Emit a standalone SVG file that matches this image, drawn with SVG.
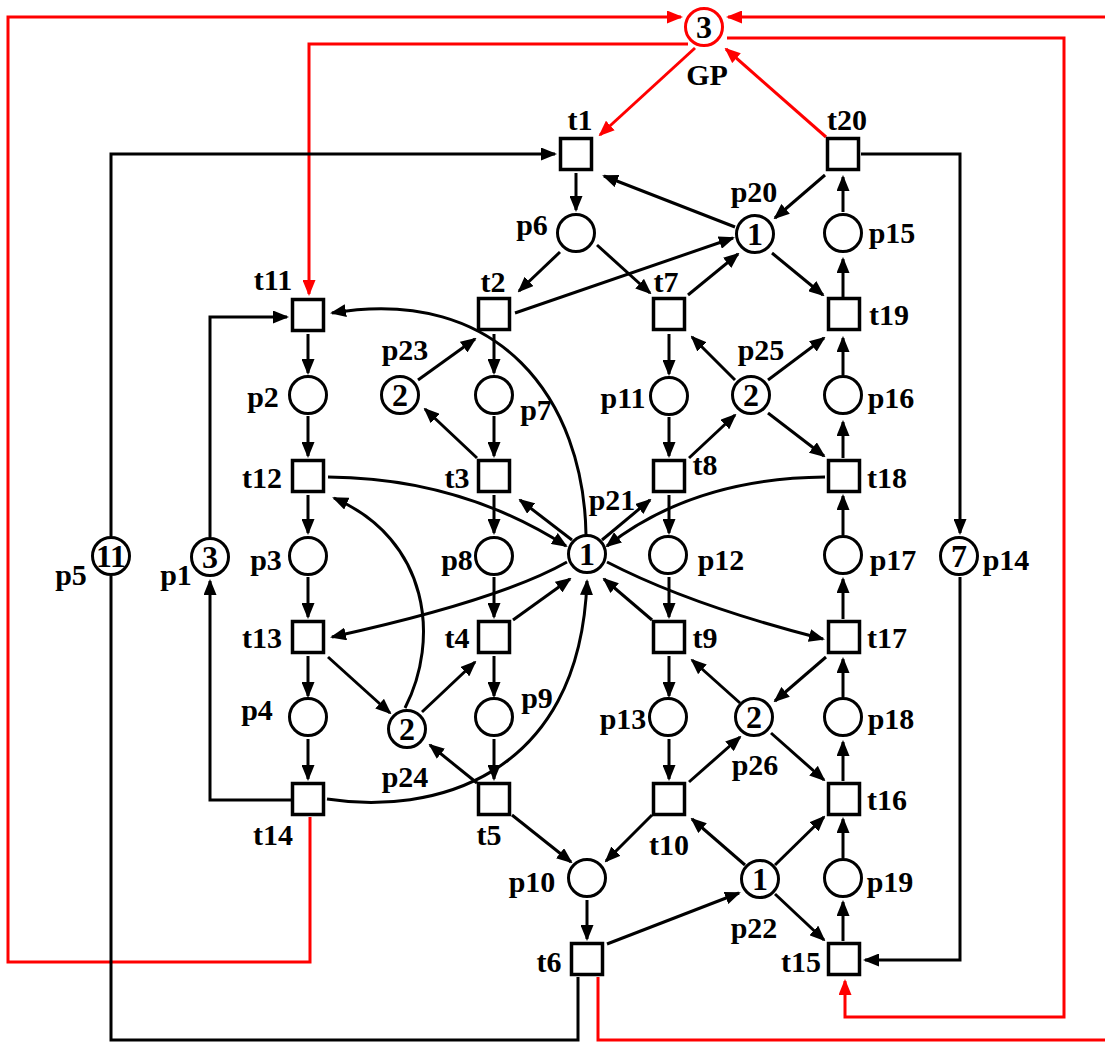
<svg xmlns="http://www.w3.org/2000/svg" width="1105" height="1042" viewBox="0 0 1105 1042">
<style>
.arc{fill:none;stroke:#000;stroke-width:3;marker-end:url(#ah)}
.ln{fill:none;stroke:#000;stroke-width:3}
.red{fill:none;stroke:#f00;stroke-width:3}
.ra{marker-end:url(#rh)}
.t{fill:#fff;stroke:#000;stroke-width:3.5}
.p{fill:#fff;stroke:#000;stroke-width:3}
.gp{fill:#fff;stroke:#f00;stroke-width:3}
text{font-family:"Liberation Serif","Times New Roman",serif;font-weight:bold;font-size:30px;text-anchor:middle;fill:#000}
.tok{font-size:32px}
</style>
<defs>
<marker id="ah" viewBox="0 0 16 13" markerWidth="16" markerHeight="13" refX="14" refY="6.5" orient="auto" markerUnits="userSpaceOnUse"><path d="M0,0 L16,6.5 L0,13 z" fill="#000"/></marker>
<marker id="rh" viewBox="0 0 16 13" markerWidth="16" markerHeight="13" refX="14" refY="6.5" orient="auto" markerUnits="userSpaceOnUse"><path d="M0,0 L16,6.5 L0,13 z" fill="#f00"/></marker>
</defs>
<rect width="1105" height="1042" fill="#fff"/>
<g id="connectors">
<path class="red ra" d="M695,48 L600,135"/>
<path class="red ra" d="M826,137 L726,49"/>
<path class="red ra" d="M310,817 V962 H8 V17 H681"/>
<path class="red ra" d="M688,44 H309 V294"/>
<path class="red ra" d="M727,38 H1064 V1017 H845 V981"/>
<path class="red" d="M598,977 V1040 H1105"/>
<path class="red ra" d="M1105,17 H728"/>
<path class="arc" d="M111,536 V154 H555"/>
<path class="ln" d="M111,576 V1040 H578 V977"/>
<path class="arc" d="M291,800 H210 V581"/>
<path class="arc" d="M210,537 V317 H287"/>
<path class="arc" d="M861,154 H960 V533"/>
<path class="arc" d="M960,577 V960 H865"/>
<path class="arc" d="M576,173 V210"/>
<path class="arc" d="M735,227 L604,176"/>
<path class="arc" d="M825,175 L775,218"/>
<path class="arc" d="M843,212 V177"/>
<path class="arc" d="M560,252 L519,291"/>
<path class="arc" d="M597,245 L650,293"/>
<path class="arc" d="M515,313 L733,238"/>
<path class="arc" d="M688,295 L738,254"/>
<path class="arc" d="M772,253 L823,295"/>
<path class="arc" d="M843,297 V259"/>
<path class="arc" d="M308,334 V373"/>
<path class="arc" d="M418,380 L475,339"/>
<path class="arc" d="M494,334 V373"/>
<path class="arc" d="M669,334 V374"/>
<path class="arc" d="M735,380 L692,337"/>
<path class="arc" d="M768,380 L824,338"/>
<path class="arc" d="M843,375 V338"/>
<path class="arc" d="M308,416 V456"/>
<path class="arc" d="M477,458 L425,409"/>
<path class="arc" d="M494,416 V456"/>
<path class="arc" d="M669,417 V456"/>
<path class="arc" d="M689,458 L735,415"/>
<path class="arc" d="M768,413 L824,456"/>
<path class="arc" d="M843,458 V422"/>
<path class="arc" d="M308,495 V533"/>
<path class="arc" d="M494,495 V533"/>
<path class="arc" d="M669,495 V533"/>
<path class="arc" d="M843,535 V496"/>
<path class="arc" d="M572,540 L520,500"/>
<path class="arc" d="M602,540 L650,500"/>
<path class="arc" d="M513,620 L570,579"/>
<path class="arc" d="M652,620 L604,579"/>
<path class="arc" d="M843,619 V579"/>
<path class="arc" d="M308,577 V617"/>
<path class="arc" d="M494,577 V617"/>
<path class="arc" d="M669,577 V617"/>
<path class="arc" d="M843,697 V659"/>
<path class="arc" d="M308,656 V696"/>
<path class="arc" d="M494,656 V696"/>
<path class="arc" d="M669,656 V696"/>
<path class="arc" d="M328,657 L390,713"/>
<path class="arc" d="M422,712 L475,662"/>
<path class="arc" d="M477,783 L430,745"/>
<path class="arc" d="M740,703 L692,660"/>
<path class="arc" d="M826,657 L775,701"/>
<path class="arc" d="M689,782 L740,737"/>
<path class="arc" d="M771,733 L824,780"/>
<path class="arc" d="M843,781 V742"/>
<path class="arc" d="M308,739 V779"/>
<path class="arc" d="M494,739 V779"/>
<path class="arc" d="M669,739 V779"/>
<path class="arc" d="M512,815 L571,862"/>
<path class="arc" d="M652,815 L606,861"/>
<path class="arc" d="M745,865 L692,819"/>
<path class="arc" d="M775,865 L824,817"/>
<path class="arc" d="M843,858 V819"/>
<path class="arc" d="M587,900 V939"/>
<path class="arc" d="M607,944 L739,893"/>
<path class="arc" d="M775,894 L824,940"/>
<path class="arc" d="M843,941 V902"/>
<path class="arc" d="M586,535 C584,400 500,285 332,313"/>
<path class="arc" d="M328,477 Q460,478 566,546"/>
<path class="arc" d="M825,477 Q694,478 607,546"/>
<path class="arc" d="M567,562 Q500,600 332,637"/>
<path class="arc" d="M607,562 Q690,605 823,639"/>
<path class="arc" d="M327,799 C430,815 580,780 587,581"/>
<path class="arc" d="M405,708 C440,640 430,540 334,498"/>
</g>
<g id="GP"><circle class="gp" cx="704" cy="27" r="18.5"/><text class="tok" x="704" y="38">3</text><text x="707" y="85">GP</text></g>
<g id="t1"><rect class="t" x="560.5" y="138.5" width="31" height="31"/><text x="580" y="130">t1</text></g>
<g id="t20"><rect class="t" x="827.5" y="138.5" width="31" height="31"/><text x="847" y="130">t20</text></g>
<g id="p6"><circle class="p" cx="576" cy="233" r="18.5"/><text x="532" y="235">p6</text></g>
<g id="p20"><circle class="p" cx="755" cy="234" r="18.5"/><text class="tok" x="755" y="245">1</text><text x="754" y="202">p20</text></g>
<g id="p15"><circle class="p" cx="843" cy="233" r="18.5"/><text x="892" y="243">p15</text></g>
<g id="t11"><rect class="t" x="292.5" y="299.5" width="31" height="31"/><text x="273" y="290">t11</text></g>
<g id="t2"><rect class="t" x="478.5" y="298.5" width="31" height="31"/><text x="493" y="292">t2</text></g>
<g id="t7"><rect class="t" x="653.5" y="298.5" width="31" height="31"/><text x="666" y="292">t7</text></g>
<g id="t19"><rect class="t" x="828.5" y="298.5" width="31" height="31"/><text x="889" y="325">t19</text></g>
<g id="p2"><circle class="p" cx="308" cy="395" r="18.5"/><text x="263" y="407">p2</text></g>
<g id="p23"><circle class="p" cx="400" cy="395" r="18.5"/><text class="tok" x="400" y="406">2</text><text x="405" y="360">p23</text></g>
<g id="p7"><circle class="p" cx="494" cy="395" r="18.5"/><text x="536" y="420">p7</text></g>
<g id="p11"><circle class="p" cx="669" cy="396" r="18.5"/><text x="623" y="408">p11</text></g>
<g id="p25"><circle class="p" cx="751" cy="395" r="18.5"/><text class="tok" x="751" y="406">2</text><text x="761" y="360">p25</text></g>
<g id="p16"><circle class="p" cx="843" cy="395" r="18.5"/><text x="891" y="408">p16</text></g>
<g id="t12"><rect class="t" x="292.5" y="460.5" width="31" height="31"/><text x="262" y="488">t12</text></g>
<g id="t3"><rect class="t" x="478.5" y="460.5" width="31" height="31"/><text x="457" y="488">t3</text></g>
<g id="t8"><rect class="t" x="653.5" y="460.5" width="31" height="31"/><text x="705" y="475">t8</text></g>
<g id="t18"><rect class="t" x="828.5" y="460.5" width="31" height="31"/><text x="887" y="488">t18</text></g>
<g id="p5"><circle class="p" cx="111" cy="556" r="18.5"/><text class="tok" x="111" y="567" textLength="30" lengthAdjust="spacingAndGlyphs">11</text><text x="71" y="585">p5</text></g>
<g id="p1"><circle class="p" cx="210" cy="557" r="18.5"/><text class="tok" x="210" y="568">3</text><text x="176" y="585">p1</text></g>
<g id="p3"><circle class="p" cx="308" cy="556" r="18.5"/><text x="266" y="570">p3</text></g>
<g id="p8"><circle class="p" cx="494" cy="556" r="18.5"/><text x="457" y="570">p8</text></g>
<g id="p21"><circle class="p" cx="587" cy="554" r="18.5"/><text class="tok" x="587" y="565">1</text><text x="612" y="510">p21</text></g>
<g id="p12"><circle class="p" cx="668" cy="555" r="18.5"/><text x="721" y="570">p12</text></g>
<g id="p17"><circle class="p" cx="843" cy="555" r="18.5"/><text x="893" y="570">p17</text></g>
<g id="p14"><circle class="p" cx="959" cy="556" r="18.5"/><text class="tok" x="959" y="567">7</text><text x="1006" y="570">p14</text></g>
<g id="t13"><rect class="t" x="292.5" y="621.5" width="31" height="31"/><text x="262" y="648">t13</text></g>
<g id="t4"><rect class="t" x="478.5" y="621.5" width="31" height="31"/><text x="457" y="648">t4</text></g>
<g id="t9"><rect class="t" x="653.5" y="621.5" width="31" height="31"/><text x="705" y="648">t9</text></g>
<g id="t17"><rect class="t" x="828.5" y="621.5" width="31" height="31"/><text x="887" y="648">t17</text></g>
<g id="p4"><circle class="p" cx="308" cy="717" r="18.5"/><text x="257" y="720">p4</text></g>
<g id="p24"><circle class="p" cx="407" cy="729" r="18.5"/><text class="tok" x="407" y="740">2</text><text x="405" y="787">p24</text></g>
<g id="p9"><circle class="p" cx="494" cy="717" r="18.5"/><text x="537" y="708">p9</text></g>
<g id="p13"><circle class="p" cx="668" cy="717" r="18.5"/><text x="623" y="729">p13</text></g>
<g id="p26"><circle class="p" cx="754" cy="717" r="18.5"/><text class="tok" x="754" y="728">2</text><text x="755" y="775">p26</text></g>
<g id="p18"><circle class="p" cx="843" cy="717" r="18.5"/><text x="891" y="729">p18</text></g>
<g id="t14"><rect class="t" x="292.5" y="783.5" width="31" height="31"/><text x="273" y="845">t14</text></g>
<g id="t5"><rect class="t" x="478.5" y="783.5" width="31" height="31"/><text x="489" y="845">t5</text></g>
<g id="t10"><rect class="t" x="653.5" y="783.5" width="31" height="31"/><text x="669" y="855">t10</text></g>
<g id="t16"><rect class="t" x="828.5" y="783.5" width="31" height="31"/><text x="887" y="810">t16</text></g>
<g id="p10"><circle class="p" cx="587" cy="878" r="18.5"/><text x="532" y="892">p10</text></g>
<g id="p22"><circle class="p" cx="760" cy="879" r="18.5"/><text class="tok" x="760" y="890">1</text><text x="754" y="938">p22</text></g>
<g id="p19"><circle class="p" cx="843" cy="878" r="18.5"/><text x="890" y="892">p19</text></g>
<g id="t6"><rect class="t" x="571.5" y="943.5" width="31" height="31"/><text x="549" y="972">t6</text></g>
<g id="t15"><rect class="t" x="828.5" y="943.5" width="31" height="31"/><text x="801" y="972">t15</text></g>
</svg>
